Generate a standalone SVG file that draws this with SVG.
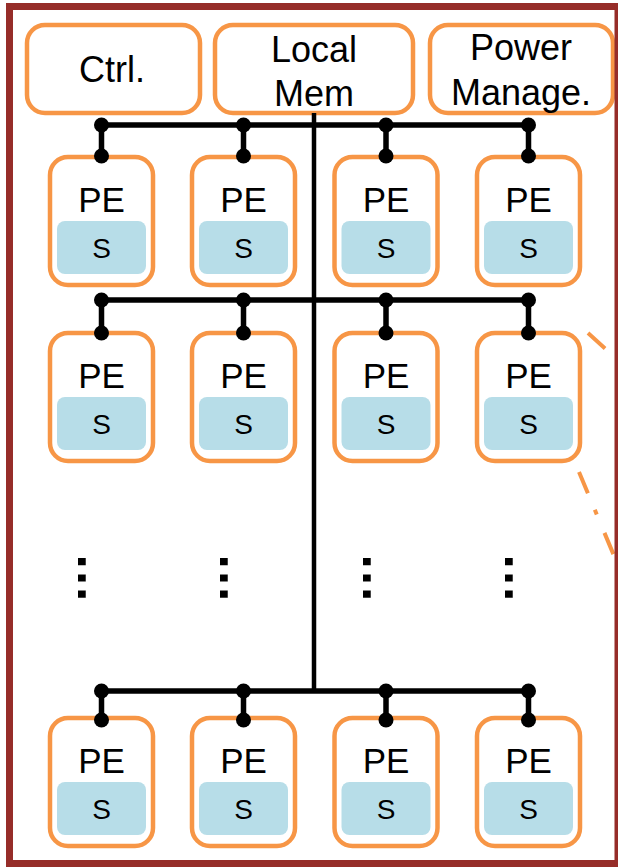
<svg xmlns="http://www.w3.org/2000/svg" width="618" height="867" viewBox="0 0 618 867">
<style>
.frame{fill:#fff;stroke:#962d29;stroke-width:7}
.blk{fill:#fff;stroke:#f79646;stroke-width:4.5}
.s{fill:#b7dde8}
.t{font-family:"Liberation Sans",Arial,sans-serif;fill:#000;text-anchor:middle}
.big{font-size:36px}
.pe{font-size:35px}
.sl{font-size:28px}
.dots{font-family:"Liberation Sans",Arial,sans-serif;font-size:51px;font-weight:bold;fill:#000;text-anchor:middle}
.bus{stroke:#000;stroke-width:5.5;fill:none}
.zoom{stroke:#f79646;stroke-width:4;fill:none;stroke-dasharray:23 18 5 20}
</style>
<defs>
<g id="pe">
<rect class="blk" x="-51.5" y="2" width="103" height="128" rx="18"/>
<text class="t pe" x="0" y="57">PE</text>
<rect class="s" x="-44.5" y="66" width="89" height="53" rx="8"/>
<text class="t sl" x="0" y="103">S</text>
</g>
</defs>
<rect class="frame" x="9.5" y="6.5" width="612" height="857"/>
<g id="ctrl"><rect class="blk" x="27" y="25" width="173" height="88" rx="18"/><text class="t big" x="112" y="82">Ctrl.</text></g>
<g id="localmem"><rect class="blk" x="215" y="25" width="198" height="88" rx="18"/><text class="t big" x="314" y="62">Local</text><text class="t big" x="314" y="106">Mem</text></g>
<g id="power"><rect class="blk" x="430" y="25" width="183" height="88" rx="18"/><text class="t big" x="521" y="60">Power</text><text class="t big" x="521" y="105">Manage.</text></g>
<g id="pe11"><use href="#pe" x="101.5" y="155"/></g>
<g id="pe12"><use href="#pe" x="243.5" y="155"/></g>
<g id="pe13"><use href="#pe" x="386" y="155"/></g>
<g id="pe14"><use href="#pe" x="528.5" y="155"/></g>
<g id="pe21"><use href="#pe" x="101.5" y="331"/></g>
<g id="pe22"><use href="#pe" x="243.5" y="331"/></g>
<g id="pe23"><use href="#pe" x="386" y="331"/></g>
<g id="pe24"><use href="#pe" x="528.5" y="331"/></g>
<g id="pe41"><use href="#pe" x="101.5" y="716"/></g>
<g id="pe42"><use href="#pe" x="243.5" y="716"/></g>
<g id="pe43"><use href="#pe" x="386" y="716"/></g>
<g id="pe44"><use href="#pe" x="528.5" y="716"/></g>
<g id="connectors">
<line class="bus" x1="314" y1="113" x2="314" y2="691" style="stroke-width:4.5"/>
<line class="bus" x1="101.5" y1="125" x2="528.5" y2="125"/>
<line class="bus" x1="101.5" y1="300" x2="528.5" y2="300"/>
<line class="bus" x1="101.5" y1="691" x2="528.5" y2="691"/>
<path class="bus" d="M101.5 125V156M243.5 125V156M386 125V156M528.5 125V156M101.5 300V333M243.5 300V333M386 300V333M528.5 300V333M101.5 691V720M243.5 691V720M386 691V720M528.5 691V720"/>
<g fill="#000">
<circle cx="101.5" cy="125" r="7.5"/><circle cx="243.5" cy="125" r="7.5"/><circle cx="386" cy="125" r="7.5"/><circle cx="528.5" cy="125" r="7.5"/>
<circle cx="101.5" cy="156" r="7.5"/><circle cx="243.5" cy="156" r="7.5"/><circle cx="386" cy="156" r="7.5"/><circle cx="528.5" cy="156" r="7.5"/>
<circle cx="101.5" cy="300" r="7.5"/><circle cx="243.5" cy="300" r="7.5"/><circle cx="386" cy="300" r="7.5"/><circle cx="528.5" cy="300" r="7.5"/>
<circle cx="101.5" cy="333" r="7.5"/><circle cx="243.5" cy="333" r="7.5"/><circle cx="386" cy="333" r="7.5"/><circle cx="528.5" cy="333" r="7.5"/>
<circle cx="101.5" cy="691" r="7.5"/><circle cx="243.5" cy="691" r="7.5"/><circle cx="386" cy="691" r="7.5"/><circle cx="528.5" cy="691" r="7.5"/>
<circle cx="101.5" cy="720" r="7.5"/><circle cx="243.5" cy="720" r="7.5"/><circle cx="386" cy="720" r="7.5"/><circle cx="528.5" cy="720" r="7.5"/>
</g>
<line class="zoom" x1="588" y1="333" x2="640" y2="380"/>
<line class="zoom" x1="579" y1="472" x2="620" y2="570"/>
</g>
<g id="ellipses">
<text class="dots" transform="translate(78,578) rotate(90)">…</text>
<text class="dots" transform="translate(220,578) rotate(90)">…</text>
<text class="dots" transform="translate(363,578) rotate(90)">…</text>
<text class="dots" transform="translate(505,578) rotate(90)">…</text>
</g>
<rect x="614.5" y="3" width="3.5" height="864" fill="#962d29"/>
</svg>
